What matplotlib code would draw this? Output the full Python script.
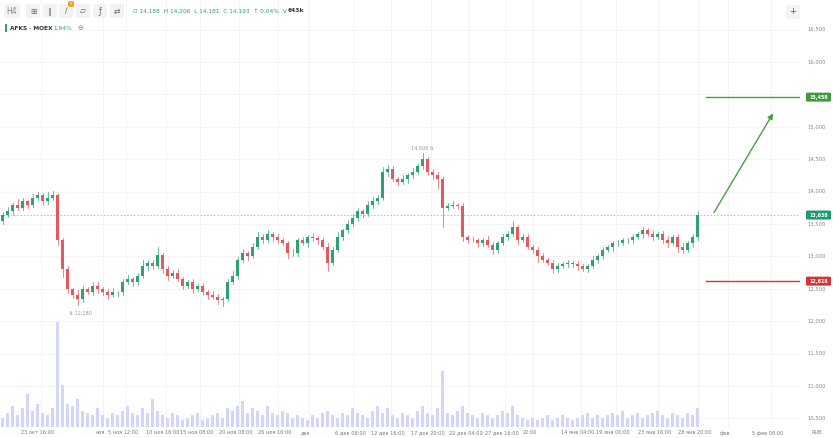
import matplotlib
matplotlib.use("Agg")
import matplotlib.pyplot as plt
from matplotlib.patches import FancyBboxPatch, Rectangle
import numpy as np

closes = [13640,13700,13800,13750,13850,13800,13900,13950,13850,13900,13950,13250,12800,12500,12400,12350,12500,12450,12550,12500,
          12450,12400,12450,12450,12600,12650,12600,12700,12850,12900,12850,13020,12800,12700,12750,12650,12550,12600,12500,12550,
          12450,12400,12380,12320,12350,12600,12700,12950,13050,13000,13150,13300,13250,13350,13300,13250,13200,13050,13050,13250,
          13200,13300,13280,13250,13150,12900,13100,13300,13400,13500,13600,13700,13650,13800,13850,13900,14300,14350,14200,14150,
          14200,14250,14300,14400,14500,14300,14250,14200,13750,13780,13800,13780,13300,13250,13250,13200,13250,13180,13100,13200,
          13300,13350,13450,13250,13300,13150,13100,13000,12950,12900,12800,12850,12880,12900,12880,12850,12800,12850,12950,13000,
          13100,13150,13200,13200,13250,13250,13300,13350,13400,13350,13300,13350,13250,13200,13300,13150,13100,13200,13300,13638]
first_open = 13550
wick_up = [40,60,30,80,50,20,70,40,30,90,60,30,40,50,20,80,40,30,60,50,
           30,40,70,20,50,60,30,40,90,50,40,120,30,50,40,60,30,40,50,20,
           40,30,60,40,30,50,70,40,60,30,50,80,40,60,30,50,40,30,60,40,
           50,30,60,40,30,50,40,70,30,60,50,40,30,60,70,40,80,60,40,30,
           50,40,60,30,100,40,50,60,30,40,50,30,40,30,50,40,30,60,40,30,
           50,40,90,30,40,50,30,40,60,30,40,50,30,40,30,50,40,30,60,40,
           50,30,40,60,30,40,50,30,60,40,50,30,40,60,30,40,50,30,40,60]
wick_dn = [50,30,60,40,30,50,40,30,60,40,30,80,120,60,40,100,50,30,40,60,
           40,50,30,60,40,30,50,40,30,60,40,30,50,60,40,30,50,40,60,30,
           40,50,30,60,80,40,30,50,40,60,30,40,50,30,60,40,30,80,50,40,
           30,50,40,60,30,120,40,30,50,40,30,60,40,30,50,40,30,60,40,50,
           30,60,40,30,50,40,60,150,300,40,30,50,60,40,30,50,40,30,60,40,
           30,50,40,60,30,40,50,80,40,30,60,40,30,50,40,60,30,40,30,50,
           40,30,60,40,30,50,40,30,60,40,50,30,40,60,30,80,40,30,50,40]
volumes = [4,6,9,5,8,14,7,10,6,5,8,45,18,10,9,12,7,6,5,8,
           5,4,6,5,7,9,6,5,8,6,12,7,5,4,6,5,3,4,5,6,
           3,4,5,6,4,8,7,9,11,6,8,7,5,9,6,5,7,6,4,5,
           4,3,5,4,6,7,5,4,6,5,8,6,5,4,7,9,6,8,5,4,
           6,5,4,7,9,6,5,8,24,6,5,7,9,6,5,4,6,5,4,5,
           7,6,9,5,4,3,4,3,4,5,3,4,5,4,3,4,5,6,4,5,
           4,5,6,5,7,4,5,6,4,5,6,7,5,4,6,5,4,6,5,8]

price_ticks = [16500,16000,15000,14500,14000,13500,13000,12500,12000,11500,11000,10500]
date_labels = ["23 окт 16:00","ноя","5 ноя 12:00","10 ноя 16:00","15 ноя 08:00","20 ноя 08:00","26 ноя 16:00","дек",
               "6 дек 08:00","12 дек 16:00","17 дек 20:00","22 дек 04:00","27 дек 16:00","22:00",
               "14 янв 04:00","19 янв 00:00","23 янв 16:00","28 янв 20:00","фев","5 фев 08:00"]
date_px = [38,100,123,163,197,236,275,306,350,388,428,466,502,530,578,613,655,695,725,768]
target_price = 15458
stop_price = 12618
last_price = 13638

W, H = 833, 438
fig = plt.figure(figsize=(W/100, H/100), dpi=100)
fig.patch.set_facecolor("white")
axw = 800
ax = fig.add_axes([0, 1-427/H, axw/W, 427/H])
step = 5.0
n = len(closes)
xmax = axw/step - 0.5
ax.set_xlim(-0.5, xmax)
def py2price(y):
    return 13500 + (224 - y)/32.4*500
ax.set_ylim(py2price(427), py2price(0))
ax.axis("off")

def px2x(px):
    return px/step

green = "#2ea36f"; red = "#e5585d"
opens = [first_open] + closes[:-1]
for i, (o, c) in enumerate(zip(opens, closes)):
    col = green if c >= o else red
    hi = max(o, c) + wick_up[i]; lo = min(o, c) - wick_dn[i]
    ax.plot([i, i], [lo, hi], color=col, lw=0.5, zorder=3)
    ax.add_patch(Rectangle((i-0.25, min(o, c)), 0.5, max(abs(c-o), 8), color=col, lw=0, zorder=4))

for p in price_ticks + [15500]:
    ax.axhline(p, color="#f2f2f2", lw=0.6, zorder=0)
for px in date_px:
    ax.axvline(px2x(px), color="#f2f2f2", lw=0.6, zorder=0)

vax = fig.add_axes([0, 1-427/H, axw/W, 427/H], sharex=ax)
vax.axis("off")
vax.set_ylim(0, 45*427/105)
vax.bar(range(n), volumes, width=0.55, color="#d3d6f8", zorder=1)

ax.axhline(last_price, color="#8fc9b4", lw=0.6, ls=(0, (2, 2)), zorder=2)
ax.plot([px2x(703), xmax], [target_price]*2, color="#4c9e44", lw=1.0, zorder=5)
ax.plot([px2x(703), xmax], [stop_price]*2, color="#d2352f", lw=1.0, zorder=5)
ax.annotate("", xy=(px2x(772), py2price(111)), xytext=(px2x(710), py2price(215)),
            arrowprops=dict(arrowstyle="-|>", color="#4c9e44", lw=1.0, mutation_scale=8), zorder=5)
ax.text(px2x(420), 14508+130, "14,508 ⇅", fontsize=3.5, color="#999999", ha="center")
ax.text(px2x(78), 12180-20, "⇅ 12,180", fontsize=3.5, color="#999999", ha="center", va="top")

def ftext(x, y, s, **kw):
    fig.text(x/W, 1-y/H, s, **kw)

for p in price_ticks:
    y = 224 - (p-13500)/500*32.4
    ftext(817, y, f"{p:,}", fontsize=3.8, color="#888888", ha="center", va="center")
for p, col in [(target_price, "#3e9a3c"), (last_price, "#1f9a6e"), (stop_price, "#d2352f")]:
    y = 224 - (p-13500)/500*32.4
    fig.patches.append(FancyBboxPatch((806/W, 1-(y+4.5)/H), 25/W, 9/H, boxstyle="round,pad=0,rounding_size=0.002",
                                      transform=fig.transFigure, facecolor=col, edgecolor="none"))
    ftext(818.5, y, f"{p:,}", fontsize=3.5, color="white", ha="center", va="center", weight="bold")

for s, px in zip(date_labels, date_px):
    ftext(px, 433, s, fontsize=3.6, color="#777777", ha="center", va="center")
ftext(817, 433, "RUB", fontsize=3.6, color="#777777", ha="center", va="center")

fig.patches.append(FancyBboxPatch((4/W, 1-18/H), 16/W, 14/H, boxstyle="round,pad=0,rounding_size=0.004",
                                  transform=fig.transFigure, facecolor="#f3f3f3", edgecolor="none"))
ftext(12, 11, "H4", fontsize=5.5, color="#888888", ha="center", va="center")
for px, s in [(33, "⊞"), (50, "∥"), (66, "∕"), (83, "▱"), (100, "ƒ"), (117, "⇄")]:
    fig.patches.append(FancyBboxPatch(((px-7)/W, 1-18/H), 14/W, 14/H, boxstyle="round,pad=0,rounding_size=0.004",
                                      transform=fig.transFigure, facecolor="#f3f3f3", edgecolor="none"))
    ftext(px, 11, s, fontsize=5.5, color="#666666", ha="center", va="center")
fig.patches.append(FancyBboxPatch((68/W, 1-7/H), 6/W, 6/H, boxstyle="round,pad=0,rounding_size=0.003",
                                  transform=fig.transFigure, facecolor="#f0a020", edgecolor="none"))
ftext(71, 4, "3", fontsize=3, color="white", ha="center", va="center")
ftext(133, 11, "O 14,188  H 14,206  L 14,181  C 14,193  ↑ 0,04%  V", fontsize=4.2, color="#2ea36f", va="center")
ftext(288, 11, "643k", fontsize=4.2, color="#333333", va="center", weight="bold")
fig.patches.append(Rectangle((5/W, 1-32/H), 1.5/W, 8/H, transform=fig.transFigure, facecolor="#2ea36f"))
ftext(10, 28, "AFKS · MOEX", fontsize=4.2, color="#333333", va="center", weight="bold")
ftext(53, 28, "1,94%", fontsize=4.2, color="#2ea36f", va="center")
ftext(80, 28, "⊖", fontsize=5, color="#888888", ha="center", va="center")
fig.patches.append(FancyBboxPatch((786/W, 1-19/H), 14/W, 14/H, boxstyle="round,pad=0,rounding_size=0.004",
                                  transform=fig.transFigure, facecolor="#f3f3f3", edgecolor="none"))
ftext(793, 12, "+", fontsize=6, color="#555555", ha="center", va="center")

fig.savefig("out.png", dpi=100)
